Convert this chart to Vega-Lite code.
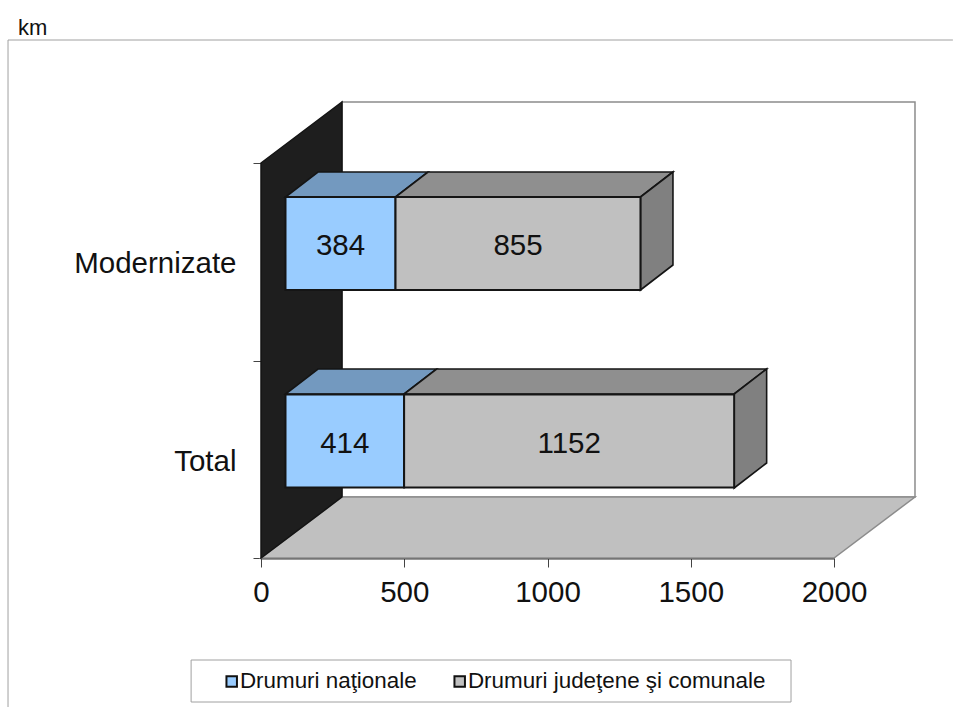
{
"$schema":"https://vega.github.io/schema/vega-lite/v6.json",
"width":573,"height":395,
"autosize":{"type":"none"},
"padding":{"left":261,"top":163,"right":119,"bottom":149},
"background":"white",
"config":{"view":{"stroke":null},"font":"Liberation Sans"},
"title":{"text":"km","anchor":"start","frame":"group","dx":-243,"offset":-2,"fontSize":22,"fontWeight":"normal","color":"#111","font":"Liberation Sans"},
"data":{"values":[
{"cat":"Modernizate","road":"Drumuri naţionale","ord":1,"km":384},
{"cat":"Modernizate","road":"Drumuri judeţene şi comunale","ord":2,"km":855},
{"cat":"Total","road":"Drumuri naţionale","ord":1,"km":414},
{"cat":"Total","road":"Drumuri judeţene şi comunale","ord":2,"km":1152}
]},
"transform":[
{"stack":"km","groupby":["cat"],"sort":[{"field":"ord","order":"ascending"}],"as":["s","e"]},
{"calculate":"(datum.s+datum.e)/2","as":"mid"}
],
"layer":[
{"data":{"values":[
{"id":"frame","o":1,"x":-883,"h":-149},{"id":"frame","o":2,"x":-883,"h":518},{"id":"frame","o":3,"x":2415,"h":518},
{"id":"box","o":1,"x":-244,"h":-102},{"id":"box","o":2,"x":1850,"h":-102},{"id":"box","o":3,"x":1850,"h":-144},{"id":"box","o":4,"x":-244,"h":-144},{"id":"box","o":5,"x":-244,"h":-102}
]},
"mark":{"type":"line","stroke":"#a0a0a0","strokeWidth":1},
"encoding":{
"x":{"field":"x","type":"quantitative","scale":{"domain":[0,2000],"nice":false,"zero":false},"axis":null},
"y":{"field":"h","type":"quantitative","scale":{"domain":[0,395],"nice":false,"zero":false},"axis":null},
"detail":{"field":"id"},"order":{"field":"o"}}},
{"data":{"values":[
{"id":"wall","face":"wall","o":1,"x":282.7,"h":456},{"id":"wall","face":"wall","o":2,"x":2282.7,"h":456},{"id":"wall","face":"wall","o":3,"x":2282.7,"h":61},{"id":"wall","face":"wall","o":4,"x":282.7,"h":61},
{"id":"floor","face":"floor","o":1,"x":0,"h":0},{"id":"floor","face":"floor","o":2,"x":2000,"h":0},{"id":"floor","face":"floor","o":3,"x":2282.7,"h":61},{"id":"floor","face":"floor","o":4,"x":282.7,"h":61},
{"id":"left","face":"left","o":1,"x":0,"h":395},{"id":"left","face":"left","o":2,"x":282.7,"h":456},{"id":"left","face":"left","o":3,"x":282.7,"h":61},{"id":"left","face":"left","o":4,"x":0,"h":0}
]},
"mark":{"type":"line","interpolate":"linear-closed","strokeWidth":1.5},
"encoding":{
"x":{"field":"x","type":"quantitative","scale":{"domain":[0,2000],"nice":false,"zero":false},"axis":null},
"y":{"field":"h","type":"quantitative","scale":{"domain":[0,395],"nice":false,"zero":false},"axis":null},
"detail":{"field":"id"},"order":{"field":"o"},
"stroke":{"field":"face","type":"nominal","legend":null,"scale":{"domain":["wall","floor","left"],"range":["#8c8c8c","#8c8c8c","#141414"]}},
"fill":{"field":"face","type":"nominal","legend":null,"scale":{"domain":["wall","floor","left"],"range":["#ffffff","#c0c0c0","#1e1e1e"]}}}},
{"data":{"values":[
{"id":"m1","face":"topNat","o":1,"x":0,"h":361},{"id":"m1","face":"topNat","o":2,"x":384,"h":361},{"id":"m1","face":"topNat","o":3,"x":497.4,"h":386},{"id":"m1","face":"topNat","o":4,"x":113.4,"h":386},
{"id":"m2","face":"topJud","o":1,"x":384,"h":361},{"id":"m2","face":"topJud","o":2,"x":1239,"h":361},{"id":"m2","face":"topJud","o":3,"x":1352.4,"h":386},{"id":"m2","face":"topJud","o":4,"x":497.4,"h":386},
{"id":"m3","face":"side","o":1,"x":1239,"h":361},{"id":"m3","face":"side","o":2,"x":1352.4,"h":386},{"id":"m3","face":"side","o":3,"x":1352.4,"h":293},{"id":"m3","face":"side","o":4,"x":1239,"h":268},
{"id":"t1","face":"topNat","o":1,"x":0,"h":164},{"id":"t1","face":"topNat","o":2,"x":414,"h":164},{"id":"t1","face":"topNat","o":3,"x":527.4,"h":189},{"id":"t1","face":"topNat","o":4,"x":113.4,"h":189},
{"id":"t2","face":"topJud","o":1,"x":414,"h":164},{"id":"t2","face":"topJud","o":2,"x":1566,"h":164},{"id":"t2","face":"topJud","o":3,"x":1679.4,"h":189},{"id":"t2","face":"topJud","o":4,"x":527.4,"h":189},
{"id":"t3","face":"side","o":1,"x":1566,"h":164},{"id":"t3","face":"side","o":2,"x":1679.4,"h":189},{"id":"t3","face":"side","o":3,"x":1679.4,"h":95},{"id":"t3","face":"side","o":4,"x":1566,"h":70}
]},
"mark":{"type":"line","interpolate":"linear-closed","stroke":"#151515","strokeWidth":1.6,"xOffset":24.5},
"encoding":{
"x":{"field":"x","type":"quantitative","scale":{"domain":[0,2000],"nice":false,"zero":false},"axis":null},
"y":{"field":"h","type":"quantitative","scale":{"domain":[0,395],"nice":false,"zero":false},"axis":null},
"detail":{"field":"id"},"order":{"field":"o"},
"fill":{"field":"face","type":"nominal","legend":null,"scale":{"domain":["topNat","topJud","side"],"range":["#7399bf","#8f8f8f","#808080"]}}}},
{"mark":{"type":"bar","size":93,"xOffset":24.5,"x2Offset":24.5,"yOffset":-18.25,"stroke":"#151515","strokeWidth":2},
"encoding":{
"y":{"field":"cat","type":"nominal","sort":["Modernizate","Total"],"scale":{"paddingInner":0,"paddingOuter":0},
"axis":{"title":null,"domain":false,"tickBand":"extent","tickSize":8,"tickColor":"#444","labelFontSize":29.5,"labelFont":"Liberation Sans","labelColor":"#111","labelPadding":17,"labelOffset":2}},
"x":{"field":"s","type":"quantitative","scale":{"domain":[0,2000],"nice":false,"zero":false},
"axis":{"title":null,"orient":"bottom","values":[0,500,1000,1500,2000],"format":"d","grid":false,"domain":true,"ticks":true,"labels":true,"domainColor":"#333","domainWidth":2,"tickColor":"#444","tickSize":9,"labelFontSize":29.5,"labelFont":"Liberation Sans","labelColor":"#111","labelPadding":11,"labelFlush":false}},
"x2":{"field":"e"},
"fill":{"field":"road","type":"nominal","sort":["Drumuri naţionale","Drumuri judeţene şi comunale"],
"scale":{"domain":["Drumuri naţionale","Drumuri judeţene şi comunale"],"range":["#99ccff","#c0c0c0"]},
"legend":{"title":null,"orient":"none","legendX":-40.5,"legendY":507,"direction":"horizontal","columns":2,"symbolType":"square","symbolSize":110,"symbolStrokeColor":"#111","symbolStrokeWidth":2,"labelFontSize":22.4,"labelFont":"Liberation Sans","labelColor":"#111","labelOffset":-3,"columnPadding":31,"padding":0,"labelLimit":400}}}},
{"mark":{"type":"text","xOffset":24.5,"yOffset":-15.5,"fontSize":29.5,"font":"Liberation Sans","color":"#111","baseline":"middle"},
"encoding":{
"x":{"field":"mid","type":"quantitative","scale":{"domain":[0,2000],"nice":false,"zero":false},"axis":null},
"y":{"field":"cat","type":"nominal","sort":["Modernizate","Total"],"scale":{"paddingInner":0,"paddingOuter":0},"axis":null},
"text":{"field":"km","type":"quantitative"}}}
],
"resolve":{"scale":{"y":"independent","fill":"independent","stroke":"independent"},"axis":{"x":"independent","y":"independent"},"legend":{"fill":"independent","stroke":"independent"}}
}
